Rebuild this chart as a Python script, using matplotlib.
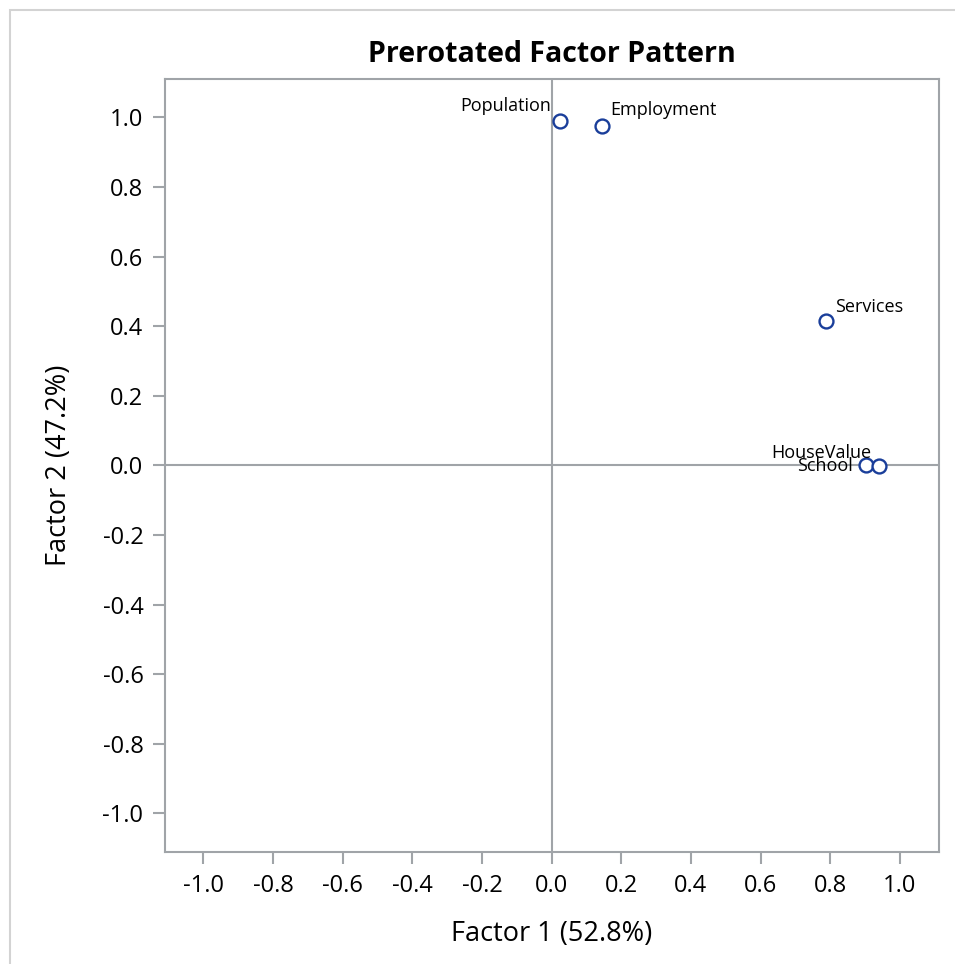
# Prerotated factor pattern plot

import matplotlib.pyplot as plt
from matplotlib.patches import Rectangle

variables = ['Population', 'Employment', 'Services', 'HouseValue', 'School']
factor1 = [0.024, 0.144, 0.787, 0.902, 0.940]
factor2 = [0.989, 0.975, 0.415, 0.002, -0.001]
ticks = [-1.0, -0.8, -0.6, -0.4, -0.2, 0.0, 0.2, 0.4, 0.6, 0.8, 1.0]

# label offsets (points) and alignment
offsets = {
    'Population': (-6.5, 7, 'right', 'baseline'),
    'Employment': (6, 8, 'left', 'baseline'),
    'Services': (6.5, 6.5, 'left', 'baseline'),
    'HouseValue': (4, 5, 'right', 'baseline'),
    'School': (-19, 0, 'right', 'center'),
}

plt.rcParams['font.family'] = ['Open Sans', 'DejaVu Sans']

fig = plt.figure(figsize=(9.55, 9.64), dpi=100)
ax = fig.add_axes([165 / 955, 1 - 852 / 964, 774 / 955, 773 / 964])

# outer frame
fig.patches.append(Rectangle((10 / 955, -0.05), 1.1, 1 - 10 / 964 + 0.05,
                             transform=fig.transFigure, fill=False,
                             edgecolor='#d3d3d3', linewidth=1.5))

ax.axhline(0, color='#a0a4a8', linewidth=1.5, zorder=1)
ax.axvline(0, color='#a0a4a8', linewidth=1.5, zorder=1)

ax.plot(factor1, factor2, linestyle='none', marker='o', markersize=10,
        markerfacecolor='white', markeredgecolor='#1a3e9a', markeredgewidth=1.7, zorder=3)

for name, x, y in zip(variables, factor1, factor2):
    dx, dy, ha, va = offsets[name]
    ax.annotate(name, (x, y), xytext=(dx, dy), textcoords='offset points',
                ha=ha, va=va, fontsize=13, color='black', zorder=4)

ax.set_xlim(-1.11, 1.112)
ax.set_ylim(-1.111, 1.11)
ax.set_xticks(ticks)
ax.set_yticks(ticks)
ax.set_xticklabels([f'{t:.1f}' for t in ticks])
ax.set_yticklabels([f'{t:.1f}' for t in ticks])

for s in ax.spines.values():
    s.set_color('#a0a4a8')
    s.set_linewidth(1.5)
ax.tick_params(direction='out', length=8.5, width=1.5, color='#a0a4a8',
               labelsize=17, pad=7)

ax.set_title('Prerotated Factor Pattern', fontsize=20.5, fontweight='bold', pad=12)
ax.set_xlabel('Factor 1 (52.8%)', fontsize=19.5, labelpad=16)
ax.set_ylabel('Factor 2 (47.2%)', fontsize=19.5, labelpad=21)

fig.savefig('out.png', dpi=100)
